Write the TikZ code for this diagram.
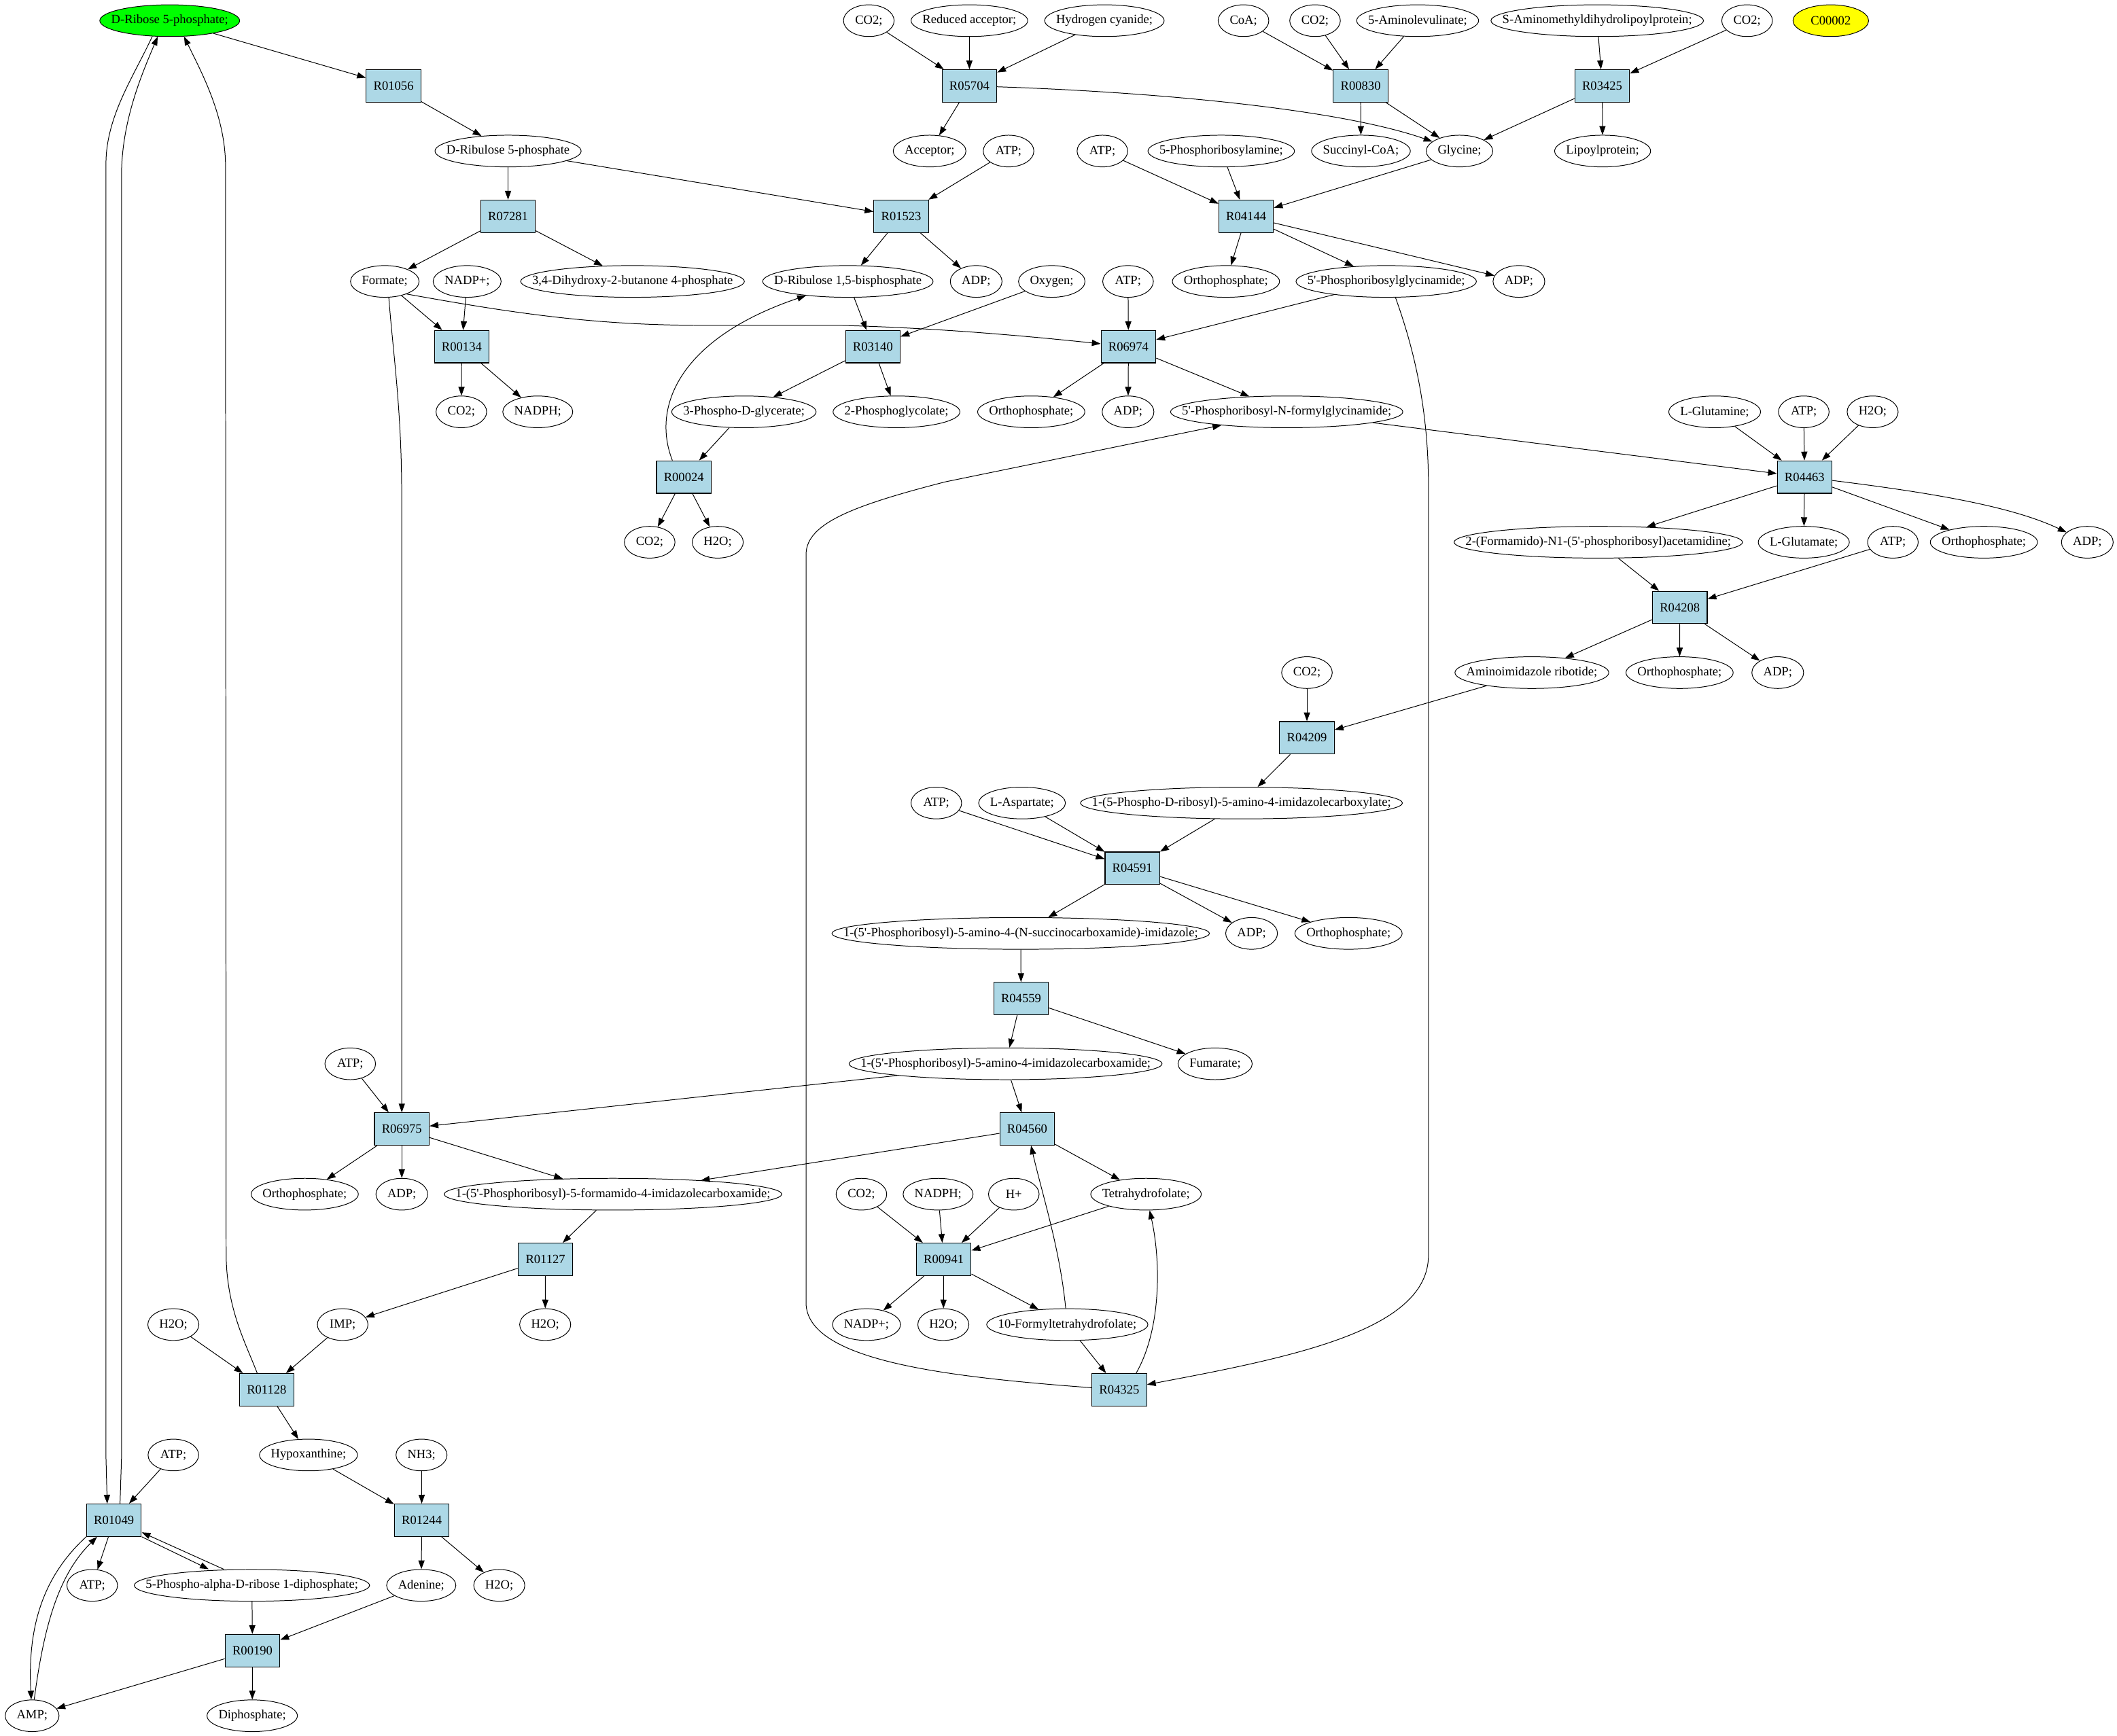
\documentclass[tikz,border=0pt]{standalone}
\usetikzlibrary{arrows.meta,shapes.geometric}
\definecolor{rxnblue}{HTML}{ADD8E6}
\definecolor{startgreen}{HTML}{00FF00}
\definecolor{loneyellow}{HTML}{FFFF00}
\font\metfont="Liberation Serif" at 9.36pt
\newlength\metwd
% compound: ellipse as wide as its label
\newcommand\met[4][]{%
  \settowidth\metwd{\metfont #4}%
  \node [met, minimum width={max(37.5pt,\metwd+17pt)}, #1] (#2) at (#3) {#4};}
\tikzset{
  met/.style={ellipse, draw, line width=0.5pt, inner xsep=-100pt, inner ysep=0pt,
    minimum height=23.5pt, minimum width=37.5pt},
  rxn/.style={rectangle, draw, line width=0.6pt, fill=rxnblue, inner sep=0pt,
    minimum width=40.5pt, minimum height=24pt},
  flow/.style={line width=0.5pt, -{Triangle[length=6.5pt,width=4.6pt]}},
}

\begin{document}
\begin{tikzpicture}[x=1pt, y=-1pt, every node/.style={font=\metfont}]
            \useasboundingbox (0,0) rectangle (1568,1286);

            % Compounds, top to bottom
            \met[fill=startgreen]{dr5p}{125.7,15.3}{D-Ribose 5-phosphate;}
            \met{co2a}{643.5,15.3}{CO2;}
            \met{redacc}{718,15.3}{Reduced acceptor;}
            \met{hcn}{818,15.3}{Hydrogen cyanide;}
            \met{coa}{921,15.3}{CoA;}
            \met{co2b}{974,15.3}{CO2;}
            \met{ala}{1050,15.3}{5-Aminolevulinate;}
            \met{samlp}{1183,15.3}{S-Aminomethyldihydrolipoylprotein;}
            \met{co2c}{1294,15.3}{CO2;}
            \met[fill=loneyellow, minimum width=56pt]{cpd}{1356,15.3}{C00002}

            \met{dru5p}{376.3,111.9}{D-Ribulose 5-phosphate}
            \met{acceptor}{688.5,111.9}{Acceptor;}
            \met{atpa}{747,111.9}{ATP;}
            \met{atpb}{816.5,111.9}{ATP;}
            \met{pra}{904.5,111.9}{5-Phosphoribosylamine;}
            \met{succoa}{1008,111.9}{Succinyl-CoA;}
            \met{gly}{1081,111.9}{Glycine;}
            \met{lipoyl}{1187,111.9}{Lipoylprotein;}

            \met{formate}{285,208.5}{Formate;}
            \met{nadpa}{346,208.5}{NADP+;}
            \met{dhbp}{468.5,208.5}{3,4-Dihydroxy-2-butanone 4-phosphate}
            \met{rubp}{628,208.5}{D-Ribulose 1,5-bisphosphate}
            \met{adpa}{723,208.5}{ADP;}
            \met{oxygen}{779,208.5}{Oxygen;}
            \met{atpc}{835.5,208.5}{ATP;}
            \met{pia}{908,208.5}{Orthophosphate;}
            \met{gar}{1026.7,208.5}{5'-Phosphoribosylglycinamide;}
            \met{adpb}{1125,208.5}{ADP;}

            \met{co2d}{341.7,305.1}{CO2;}
            \met{nadpha}{398.3,305.1}{NADPH;}
            \met{pga}{551,305.1}{3-Phospho-D-glycerate;}
            \met{pglyc}{664,305.1}{2-Phosphoglycolate;}
            \met{pib}{763.8,305.1}{Orthophosphate;}
            \met{adpc}{835.5,305.1}{ADP;}
            \met{fgar}{953,305.1}{5'-Phosphoribosyl-N-formylglycinamide;}
            \met{gln}{1270,305.1}{L-Glutamine;}
            \met{atpd}{1336,305.1}{ATP;}
            \met{h2ob}{1387,305.1}{H2O;}

            \met{co2e}{481.2,401.7}{CO2;}
            \met{h2oa}{531.6,401.7}{H2O;}
            \met{fgam}{1183.8,401.7}{2-(Formamido)-N1-(5'-phosphoribosyl)acetamidine;}
            \met{glu}{1336,401.7}{L-Glutamate;}
            \met{atpe}{1402,401.7}{ATP;}
            \met{pic}{1469.4,401.7}{Orthophosphate;}
            \met{adpd}{1546,401.7}{ADP;}

            \met{co2f}{968,498.3}{CO2;}
            \met{air}{1134.6,498.3}{Aminoimidazole ribotide;}
            \met{pid}{1244,498.3}{Orthophosphate;}
            \met{adpe}{1316.7,498.3}{ADP;}

            \met{atpf}{693.5,594.9}{ATP;}
            \met{asp}{757,594.9}{L-Aspartate;}
            \met{cair}{919.5,594.9}{1-(5-Phospho-D-ribosyl)-5-amino-4-imidazolecarboxylate;}

            \met{saicar}{756,691.5}{1-(5'-Phosphoribosyl)-5-amino-4-(N-succinocarboxamide)-imidazole;}
            \met{adpf}{927,691.5}{ADP;}
            \met{pie}{998.8,691.5}{Orthophosphate;}

            \met{atpg}{259.4,788.1}{ATP;}
            \met{aicar}{744.8,788.1}{1-(5'-Phosphoribosyl)-5-amino-4-imidazolecarboxamide;}
            \met{fum}{900,788.1}{Fumarate;}

            \met{pif}{225.7,884.7}{Orthophosphate;}
            \met{adpg}{297.6,884.7}{ADP;}
            \met{faicar}{454,884.7}{1-(5'-Phosphoribosyl)-5-formamido-4-imidazolecarboxamide;}
            \met{co2g}{638,884.7}{CO2;}
            \met{nadphb}{694.8,884.7}{NADPH;}
            \met{hplus}{750.9,884.7}{H+}
            \met{thf}{848.8,884.7}{Tetrahydrofolate;}

            \met{h2oe}{128.4,981.3}{H2O;}
            \met{imp}{253.8,981.3}{IMP;}
            \met{h2oc}{403.8,981.3}{H2O;}
            \met{nadpb}{641.8,981.3}{NADP+;}
            \met{h2od}{698.7,981.3}{H2O;}
            \met{fthf}{790.5,981.3}{10-Formyltetrahydrofolate;}

            \met{atph}{128.4,1077.9}{ATP;}
            \met{hx}{228.5,1077.9}{Hypoxanthine;}
            \met{nh3}{312.2,1077.9}{NH3;}

            \met{atpi}{68.3,1174.5}{ATP;}
            \met{prpp}{186.6,1174.5}{5-Phospho-alpha-D-ribose 1-diphosphate;}
            \met{ade}{312,1174.5}{Adenine;}
            \met{h2of}{369.8,1174.5}{H2O;}

            \met{amp}{23.8,1271.1}{AMP;}
            \met{ppi}{186.8,1271.1}{Diphosphate;}

            % Reactions
            \node [rxn] (R01056) at (291.5,63.6) {R01056};
            \node [rxn] (R05704) at (718,63.6) {R05704};
            \node [rxn] (R00830) at (1007.8,63.6) {R00830};
            \node [rxn] (R03425) at (1186.7,63.6) {R03425};
            \node [rxn] (R07281) at (376.3,160.2) {R07281};
            \node [rxn] (R01523) at (667.5,160.2) {R01523};
            \node [rxn] (R04144) at (923,160.2) {R04144};
            \node [rxn] (R00134) at (342,256.8) {R00134};
            \node [rxn] (R03140) at (646.5,256.8) {R03140};
            \node [rxn] (R06974) at (835.8,256.8) {R06974};
            \node [rxn] (R00024) at (506.5,353.4) {R00024};
            \node [rxn] (R04463) at (1336.6,353.4) {R04463};
            \node [rxn] (R04208) at (1244.2,450) {R04208};
            \node [rxn] (R04209) at (968,546.6) {R04209};
            \node [rxn] (R04591) at (838.7,643.2) {R04591};
            \node [rxn] (R04559) at (756.3,739.8) {R04559};
            \node [rxn] (R06975) at (297.6,836.4) {R06975};
            \node [rxn] (R04560) at (760.8,836.4) {R04560};
            \node [rxn] (R01127) at (404,933) {R01127};
            \node [rxn] (R00941) at (699,933) {R00941};
            \node [rxn] (R01128) at (197.5,1029.6) {R01128};
            \node [rxn] (R04325) at (829,1029.6) {R04325};
            \node [rxn] (R01049) at (84.4,1126.2) {R01049};
            \node [rxn] (R01244) at (312.4,1126.2) {R01244};
            \node [rxn] (R00190) at (187,1222.8) {R00190};

            % R01056
            \draw [flow] (dr5p) -- (R01056);
            \draw [flow] (R01056) -- (dru5p);
            % R07281
            \draw [flow] (dru5p) -- (R07281);
            \draw [flow] (R07281) -- (formate);
            \draw [flow] (R07281) -- (dhbp);
            % R01523
            \draw [flow] (dru5p) -- (R01523);
            \draw [flow] (atpa) -- (R01523);
            \draw [flow] (R01523) -- (rubp);
            \draw [flow] (R01523) -- (adpa);
            % R00134
            \draw [flow] (formate) -- (R00134);
            \draw [flow] (nadpa) -- (R00134);
            \draw [flow] (R00134) -- (co2d);
            \draw [flow] (R00134) -- (nadpha);
            % R03140
            \draw [flow] (rubp) -- (R03140);
            \draw [flow] (oxygen) -- (R03140);
            \draw [flow] (R03140) -- (pga);
            \draw [flow] (R03140) -- (pglyc);
            % R00024
            \draw [flow] (pga) -- (R00024);
            \draw [flow] (R00024) -- (co2e);
            \draw [flow] (R00024) -- (h2oa);
            \draw [flow] ([xshift=-8.5pt]R00024.north) .. controls (482,300) and (505,250) .. (rubp);
            % R05704
            \draw [flow] (co2a) -- (R05704);
            \draw [flow] (redacc) -- (R05704);
            \draw [flow] (hcn) -- (R05704);
            \draw [flow] (R05704) -- (acceptor);
            \draw [flow] (R05704) .. controls (850,68) and (990,80) .. (gly);
            % R00830
            \draw [flow] (coa) -- (R00830);
            \draw [flow] (co2b) -- (R00830);
            \draw [flow] (ala) -- (R00830);
            \draw [flow] (R00830) -- (succoa);
            \draw [flow] (R00830) -- (gly);
            % R03425
            \draw [flow] (samlp) -- (R03425);
            \draw [flow] (co2c) -- (R03425);
            \draw [flow] (R03425) -- (lipoyl);
            \draw [flow] (R03425) -- (gly);
            % R04144
            \draw [flow] (gly) -- (R04144);
            \draw [flow] (atpb) -- (R04144);
            \draw [flow] (pra) -- (R04144);
            \draw [flow] (R04144) -- (pia);
            \draw [flow] (R04144) -- (gar);
            \draw [flow] (R04144) -- (adpb);
            % R06974
            \draw [flow] (gar) -- (R06974);
            \draw [flow] (atpc) -- (R06974);
            \draw [flow] (formate.-30) .. controls (380,232) and (440,241) .. (520,241) -- (620,241)
                .. controls (700,243) and (770,250) .. (R06974);
            \draw [flow] (R06974) -- (pib);
            \draw [flow] (R06974) -- (adpc);
            \draw [flow] (R06974) -- (fgar);
            % R04325
            \draw [flow] (gar.300) .. controls (1046,255) and (1058,300) .. (1058,360) -- (1058,930)
                .. controls (1058,985) and (960,1005) .. (R04325);
            \draw [flow] (fthf) -- (R04325);
            \draw [flow] (R04325) .. controls (700,1020) and (597,1008) .. (597,965) -- (597,410)
                .. controls (598,388) and (630,375) .. (700,357) -- (fgar);
            \draw [flow] ([xshift=12.5pt]R04325.north) .. controls (860,985) and (860,935) .. (thf);
            % R04463
            \draw [flow] (fgar) -- (R04463);
            \draw [flow] (gln) -- (R04463);
            \draw [flow] (atpd) -- (R04463);
            \draw [flow] (h2ob) -- (R04463);
            \draw [flow] (R04463) -- (fgam);
            \draw [flow] (R04463) -- (glu);
            \draw [flow] (R04463) -- (pic);
            \draw [flow] (R04463) .. controls (1430,365) and (1490,375) .. (adpd);
            % R04208
            \draw [flow] (fgam) -- (R04208);
            \draw [flow] (atpe) -- (R04208);
            \draw [flow] (R04208) -- (air);
            \draw [flow] (R04208) -- (pid);
            \draw [flow] (R04208) -- (adpe);
            % R04209
            \draw [flow] (air) -- (R04209);
            \draw [flow] (co2f) -- (R04209);
            \draw [flow] (R04209) -- (cair);
            % R04591
            \draw [flow] (cair) -- (R04591);
            \draw [flow] (atpf) -- (R04591);
            \draw [flow] (asp) -- (R04591);
            \draw [flow] (R04591) -- (saicar);
            \draw [flow] (R04591) -- (adpf);
            \draw [flow] (R04591) -- (pie);
            % R04559
            \draw [flow] (saicar) -- (R04559);
            \draw [flow] (R04559) -- (aicar);
            \draw [flow] (R04559) -- (fum);
            % R06975
            \draw [flow] (formate.284) .. controls (291,260) and (297,300) .. (297.5,360) -- (R06975);
            \draw [flow] (atpg) -- (R06975);
            \draw [flow] (aicar) -- (R06975);
            \draw [flow] (R06975) -- (pif);
            \draw [flow] (R06975) -- (adpg);
            \draw [flow] (R06975) -- (faicar);
            % R04560
            \draw [flow] (aicar) -- (R04560);
            \draw [flow] (fthf) .. controls (785,925) and (772,885) .. (R04560);
            \draw [flow] (R04560) -- (faicar);
            \draw [flow] (R04560) -- (thf);
            % R00941
            \draw [flow] (co2g) -- (R00941);
            \draw [flow] (nadphb) -- (R00941);
            \draw [flow] (hplus) -- (R00941);
            \draw [flow] (thf) -- (R00941);
            \draw [flow] (R00941) -- (nadpb);
            \draw [flow] (R00941) -- (h2od);
            \draw [flow] (R00941) -- (fthf);
            % R01127
            \draw [flow] (faicar) -- (R01127);
            \draw [flow] (R01127) -- (imp);
            \draw [flow] (R01127) -- (h2oc);
            % R01128
            \draw [flow] (h2oe) -- (R01128);
            \draw [flow] (imp) -- (R01128);
            \draw [flow] (R01128) -- (hx);
            \draw [flow] ([xshift=-7pt]R01128.north) .. controls (182,995) and (168,970) .. (167.5,930)
                -- (167,120) .. controls (166,85) and (150,55) .. (dr5p.312);
            % R01244
            \draw [flow] (hx) -- (R01244);
            \draw [flow] (nh3) -- (R01244);
            \draw [flow] (R01244) -- (ade);
            \draw [flow] (R01244) -- (h2of);
            % R00190
            \draw [flow] (ade) -- (R00190);
            \draw [flow] (prpp) -- (R00190);
            \draw [flow] (R00190) -- (amp);
            \draw [flow] (R00190) -- (ppi);
            % R01049
            \draw [flow] (atph) -- (R01049);
            \draw [flow] (dr5p.222) .. controls (100,55) and (79,85) .. (78.5,120) -- (78.5,1080)
                -- ([xshift=-5pt]R01049.north);
            \draw [flow] ([xshift=4.5pt]R01049.north) -- (90,1080) -- (90,130)
                .. controls (90,90) and (105,55) .. (dr5p.233);
            \draw [flow] (R01049) -- (atpi);
            \draw [flow] (R01049.south east) -- ([xshift=-32pt]prpp.north);
            \draw [flow] ([xshift=-21pt]prpp.north) -- ([yshift=-9pt]R01049.east);
            \draw [flow] (R01049.south west) .. controls (35,1165) and (20,1200) .. (amp);
            \draw [flow] (amp) .. controls (33,1200) and (45,1165) .. (R01049);
        \end{tikzpicture}
\end{document}
